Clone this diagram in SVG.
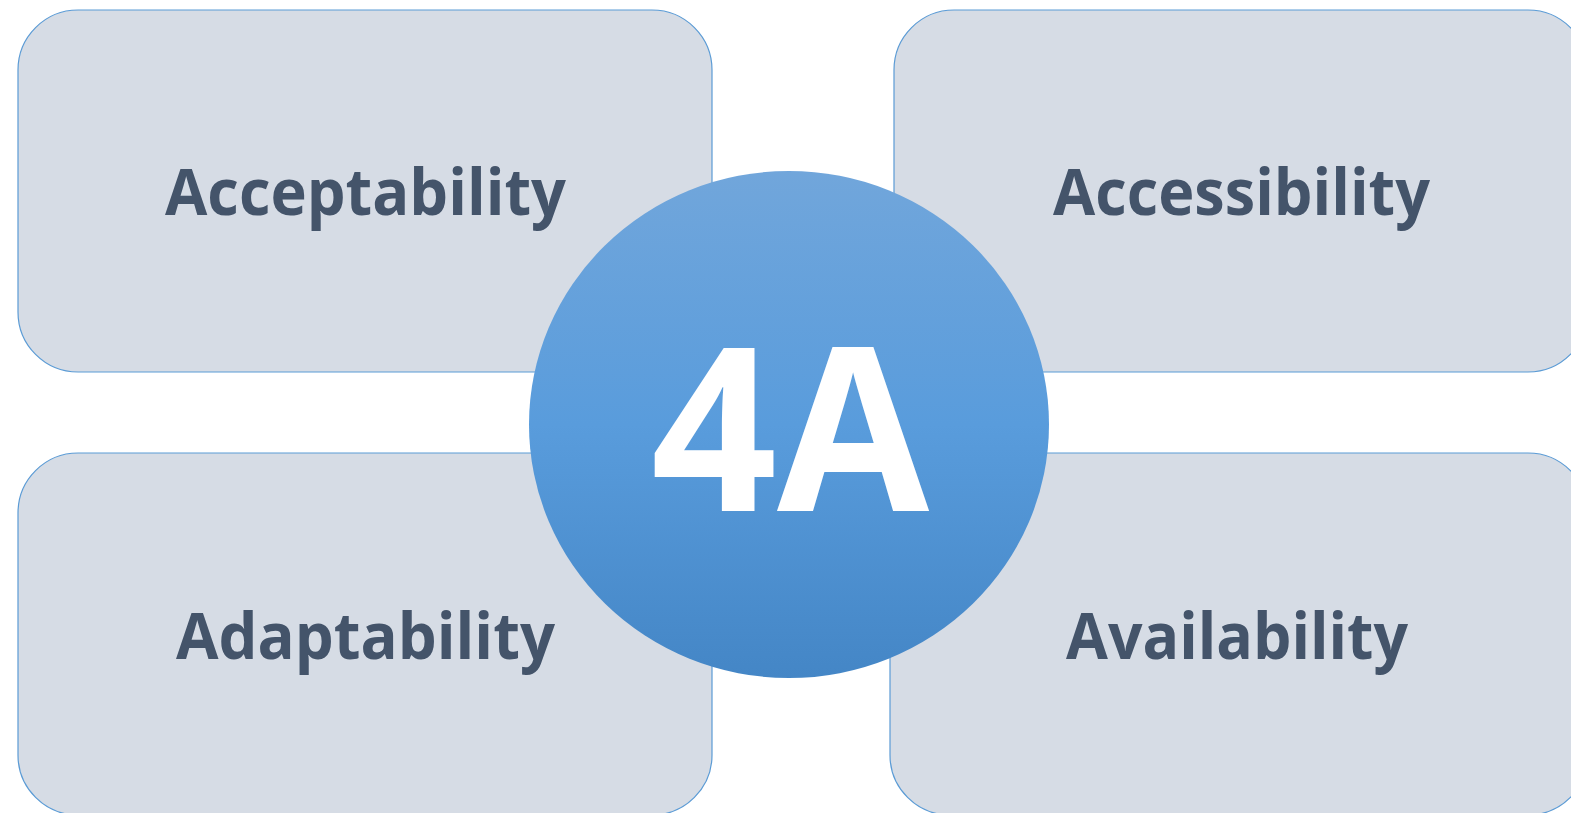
<svg xmlns="http://www.w3.org/2000/svg" width="1571" height="813" viewBox="0 0 1571 813">
<defs>
<linearGradient id="g" x1="0" y1="0" x2="0" y2="1">
<stop offset="0" stop-color="#71A6DB"/>
<stop offset="0.5" stop-color="#599CDC"/>
<stop offset="1" stop-color="#4486C6"/>
</linearGradient>
</defs>
<style>
.box{fill:#D6DCE5;stroke:#5B9BD5;stroke-width:1.2}
.lbl{font-family:"Open Sans","Liberation Sans",sans-serif;font-weight:bold;font-size:64px;fill:#44546A;text-anchor:middle}
.big{font-family:"Open Sans","Liberation Sans",sans-serif;font-weight:bold;font-size:228px;fill:#FFFFFF;text-anchor:middle}
</style>
<g id="acceptability">
<rect class="box" x="18" y="10" width="694" height="362" rx="60" ry="60"/>
<text class="lbl" x="365.5" y="215" textLength="401" lengthAdjust="spacingAndGlyphs">Acceptability</text>
</g>
<g id="accessibility">
<rect class="box" x="894" y="10" width="694" height="362" rx="60" ry="60"/>
<text class="lbl" x="1241.5" y="215" textLength="377" lengthAdjust="spacingAndGlyphs">Accessibility</text>
</g>
<g id="adaptability">
<rect class="box" x="18" y="453" width="694" height="362" rx="60" ry="60"/>
<text class="lbl" x="365.5" y="659" textLength="379" lengthAdjust="spacingAndGlyphs">Adaptability</text>
</g>
<g id="availability">
<rect class="box" x="890" y="453" width="698" height="362" rx="60" ry="60"/>
<text class="lbl" x="1237" y="659" textLength="342" lengthAdjust="spacingAndGlyphs">Availability</text>
</g>
<g id="center">
<ellipse cx="789" cy="424.5" rx="260" ry="253.5" fill="url(#g)"/>
<text class="big" x="790" y="511" textLength="278" lengthAdjust="spacingAndGlyphs">4A</text>
</g>
<g id="connectors"></g>
</svg>
